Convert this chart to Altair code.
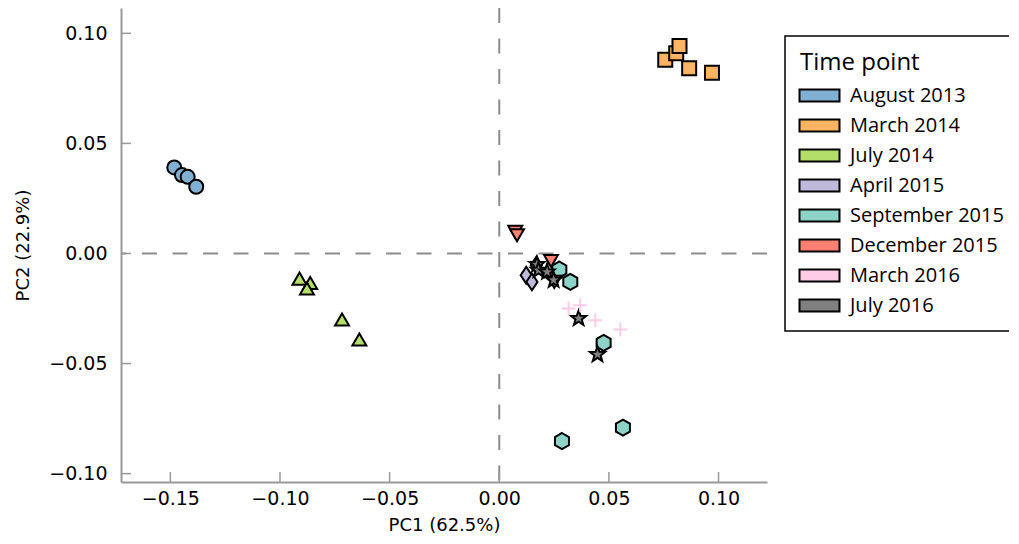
import altair as alt
import pandas as pd

# ---- data ----
series_names = ["August 2013", "March 2014", "July 2014", "April 2015",
                "September 2015", "December 2015", "March 2016", "July 2016"]
series_colors = ["#80b1d3", "#fdb462", "#b3de69", "#bebada",
                 "#8dd3c7", "#fb8072", "#fccde5", "#808080"]

aug13_x = [-0.1482, -0.1447, -0.1421, -0.1382]
aug13_y = [0.0391, 0.0356, 0.0348, 0.0303]

mar14_x = [0.0757, 0.0807, 0.0822, 0.0866, 0.0970]
mar14_y = [0.0880, 0.0909, 0.0942, 0.0841, 0.0821]

jul14_x = [-0.0911, -0.0862, -0.0877, -0.0717, -0.0638]
jul14_y = [-0.0114, -0.0134, -0.0159, -0.0300, -0.0391]

apr15_x = [0.0123, 0.0149, 0.0169]
apr15_y = [-0.0099, -0.0129, -0.0053]

sep15_x = [0.0274, 0.0324, 0.0476, 0.0564, 0.0286]
sep15_y = [-0.0073, -0.0129, -0.0406, -0.0791, -0.0852]

dec15_x = [0.0073, 0.0081, 0.0236, 0.0251]
dec15_y = [0.0098, 0.0083, -0.0034, -0.0129]

mar16_x = [0.0316, 0.0369, 0.0438, 0.0552]
mar16_y = [-0.0250, -0.0235, -0.0303, -0.0345]

jul16_x = [0.0172, 0.0179, 0.0218, 0.0248, 0.0362, 0.0448]
jul16_y = [-0.0050, -0.0076, -0.0084, -0.0121, -0.0295, -0.0459]

x_ticks = [-0.15, -0.10, -0.05, 0.00, 0.05, 0.10]
y_ticks = [-0.10, -0.05, 0.00, 0.05, 0.10]

# ---- marker shapes ----
hexagon = "M0,-1.15L1,-0.575L1,0.575L0,1.15L-1,0.575L-1,-0.575Z"
star = ("M0,-1.15L0.28,-0.38L1.09,-0.36L0.45,0.15L0.68,0.93L0,0.47"
        "L-0.68,0.93L-0.45,0.15L-1.09,-0.36L-0.28,-0.38Z")
thin_diamond = "M0,-1.2L0.8,0L0,1.2L-0.8,0Z"
plus_path = "M-1,0H1M0,-1V1"
legend_rect = "M-1.081,-0.324H1.081V0.324H-1.081Z"

shape_domain = ["August 2013", "March 2014", "July 2014", "April 2015",
                "September 2015", "December 2015", "July 2016"]
shape_range = ["circle", "square", "triangle-up", thin_diamond,
               hexagon, "triangle-down", star]

rows = []
for name, xs, ys in [("August 2013", aug13_x, aug13_y),
                     ("March 2014", mar14_x, mar14_y),
                     ("July 2014", jul14_x, jul14_y),
                     ("April 2015", apr15_x, apr15_y),
                     ("September 2015", sep15_x, sep15_y),
                     ("December 2015", dec15_x, dec15_y),
                     ("July 2016", jul16_x, jul16_y)]:
    for a, b in zip(xs, ys):
        rows.append({"series": name, "PC1": a, "PC2": b})
main_df = pd.DataFrame(rows)
plus_df = pd.DataFrame({"series": "March 2016", "PC1": mar16_x, "PC2": mar16_y})
xt_df = pd.DataFrame({"v": x_ticks})
yt_df = pd.DataFrame({"v": y_ticks})

W, H = 646, 474
xscale = alt.Scale(domain=[-0.1725, 0.1221], nice=False, zero=False)
yscale = alt.Scale(domain=[-0.1038, 0.1115], nice=False, zero=False)

label_font = "DejaVu Sans"
axis_style = dict(labelFont=label_font, labelFontSize=19, labelColor="black",
                  titleFont=label_font, titleFontSize=18, titleFontWeight="normal",
                  titleColor="black", grid=False, ticks=False,
                  domainColor="#999999", domainWidth=2)

x_enc = alt.X("PC1:Q", scale=xscale,
              axis=alt.Axis(title="PC1 (62.5%)", values=x_ticks, format=".2f",
                            labelPadding=7, titlePadding=8, **axis_style))
y_enc = alt.Y("PC2:Q", scale=yscale,
              axis=alt.Axis(title="PC2 (22.9%)", values=y_ticks, format=".2f",
                            labelPadding=14, titlePadding=16, **axis_style))

zero_v = alt.Chart(pd.DataFrame({"PC1": [0.0]})).mark_rule(
    color="#8c8c8c", strokeWidth=2, strokeDash=[15, 15.5]
).encode(x=alt.X("PC1:Q", scale=xscale))
zero_h = alt.Chart(pd.DataFrame({"PC2": [0.0]})).mark_rule(
    color="#8c8c8c", strokeWidth=2, strokeDash=[15, 15.5]
).encode(y=alt.Y("PC2:Q", scale=yscale))

xticks_layer = alt.Chart(xt_df).mark_rule(color="#999999", strokeWidth=1.5).encode(
    x=alt.X("v:Q", scale=xscale), y=alt.value(H), y2=alt.value(H - 10))
yticks_layer = alt.Chart(yt_df).mark_rule(color="#999999", strokeWidth=1.5).encode(
    y=alt.Y("v:Q", scale=yscale), x=alt.value(0), x2=alt.value(10))

points = alt.Chart(main_df).mark_point(
    filled=True, stroke="black", strokeWidth=2, size=196, opacity=1
).encode(
    x=x_enc,
    y=y_enc,
    fill=alt.Fill("series:N",
                  scale=alt.Scale(domain=series_names, range=series_colors),
                  legend=alt.Legend(title="Time point", orient="none",
                                    legendX=664, legendY=28,
                                    symbolType=legend_rect, symbolSize=1369,
                                    symbolStrokeColor="black", symbolStrokeWidth=2,
                                    symbolOpacity=1, labelOffset=11,
                                    rowPadding=0, titlePadding=1,
                                    padding=15, strokeColor="black",
                                    fillColor="white", cornerRadius=0,
                                    labelFont="Open Sans", labelFontSize=20,
                                    labelColor="black", labelLimit=400,
                                    titleFont="Open Sans", titleFontSize=24,
                                    titleFontWeight="normal", titleColor="black")),
    shape=alt.Shape("series:N",
                    scale=alt.Scale(domain=shape_domain, range=shape_range),
                    legend=None),
)

plus = alt.Chart(plus_df).mark_point(
    shape=plus_path, filled=False, color="#fccde5", strokeWidth=2, size=196, opacity=1
).encode(x=alt.X("PC1:Q", scale=xscale), y=alt.Y("PC2:Q", scale=yscale))

chart = alt.layer(zero_v, zero_h, xticks_layer, yticks_layer, points, plus).properties(
    width=W, height=H,
    autosize=alt.AutoSizeParams(type="none"),
    padding={"left": 113, "top": 0, "right": 242, "bottom": 60},
).configure_view(stroke=None).configure_legend(strokeWidth=1.5)

chart.save("out.html", embed_options={"renderer": "svg", "actions": False})
